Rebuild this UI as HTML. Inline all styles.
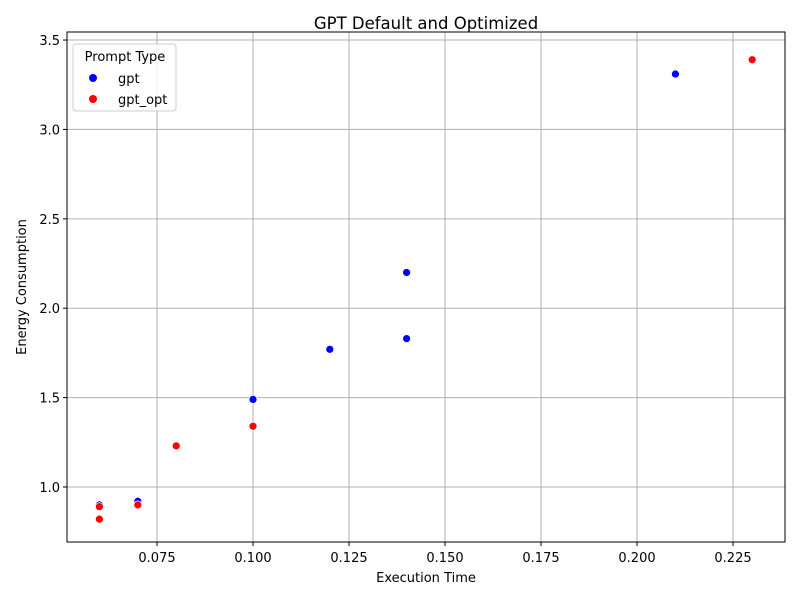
<!DOCTYPE html>
<html><head><meta charset="utf-8"><style>
body{margin:0;background:#fff;font-family:"Liberation Sans","DejaVu Sans",sans-serif;}
svg text{font-family:"DejaVu Sans","Liberation Sans",sans-serif;}
</style></head><body>
<svg id="chart" width="800" height="600" xmlns="http://www.w3.org/2000/svg">
<rect width="800" height="600" fill="#fff"/>
<g id="grid"></g>
<g id="pts"></g>
<rect x="67" y="32" width="718" height="510" fill="none" stroke="#000" stroke-width="1"/>
<g id="ticks"></g>
<text x="426" y="29" font-size="16.5" text-anchor="middle">GPT Default and Optimized</text>
<text x="426" y="582" font-size="13" text-anchor="middle">Execution Time</text>
<text transform="translate(26,287) rotate(-90)" font-size="13" text-anchor="middle">Energy Consumption</text>
<g>
<rect x="73" y="44" width="103" height="67" rx="3" fill="#fff" fill-opacity="0.8" stroke="#ccc"/>
<text x="125" y="61" font-size="13" text-anchor="middle">Prompt Type</text>
<g><circle cx="93" cy="78" r="4" fill="#0000ff"/><text x="118" y="83" font-size="13">gpt</text></g>
<g><circle cx="93" cy="99" r="4" fill="#ff0000"/><text x="118" y="104" font-size="13">gpt_opt</text></g>
</g>
</svg>
<script>
const gptX=[0.06,0.07,0.10,0.12,0.14,0.14,0.21];
const gptY=[0.90,0.92,1.49,1.77,2.20,1.83,3.31];
const optX=[0.06,0.06,0.07,0.08,0.10,0.23];
const optY=[0.89,0.82,0.90,1.23,1.34,3.39];
const xTicks=[0.075,0.100,0.125,0.150,0.175,0.200,0.225];
const xTickLabels=["0.075","0.100","0.125","0.150","0.175","0.200","0.225"];
const yTicks=[1.0,1.5,2.0,2.5,3.0,3.5];
const yTickLabels=["1.0","1.5","2.0","2.5","3.0","3.5"];
const L=67,R=785,T=32,B=542;
const xMin=0.05156,xMax=0.23854,yMin=0.6924,yMax=3.545;
function sx(v){return L+(v-xMin)/(xMax-xMin)*(R-L);}
function sy(v){return B-(v-yMin)/(yMax-yMin)*(B-T);}
const NS="http://www.w3.org/2000/svg";
const grid=document.getElementById('grid'),ticks=document.getElementById('ticks'),pts=document.getElementById('pts');
function mk(tag,attrs,parent){const e=document.createElementNS(NS,tag);for(const k in attrs)e.setAttribute(k,attrs[k]);parent.appendChild(e);return e;}
xTicks.forEach((t,i)=>{const x=sx(t);
 const g=mk('line',{x1:x,x2:x,y1:T,y2:B,stroke:'#b0b0b0','stroke-width':1},grid);
 
 
 const tk=mk('line',{x1:x,x2:x,y1:B,y2:B+4,stroke:'#000'},ticks);
 
 
 const tx=mk('text',{x:x,y:B+20,'font-size':13,'text-anchor':'middle'},ticks);tx.textContent=xTickLabels[i];
 
 
});
yTicks.forEach((t,i)=>{const y=sy(t);
 const g=mk('line',{x1:L,x2:R,y1:y,y2:y,stroke:'#b0b0b0','stroke-width':1},grid);
 
 
 const tk=mk('line',{x1:L-4,x2:L,y1:y,y2:y,stroke:'#000'},ticks);
 
 
 const tx=mk('text',{x:L-7,y:y+5,'font-size':13,'text-anchor':'end'},ticks);tx.textContent=yTickLabels[i];
 
 
});
gptX.forEach((v,i)=>{const c=mk('circle',{cx:sx(v),cy:sy(gptY[i]),r:4,fill:'#0000ff',stroke:'#fff','stroke-width':0.75},pts);
 
 });
optX.forEach((v,i)=>{const c=mk('circle',{cx:sx(v),cy:sy(optY[i]),r:4,fill:'#ff0000',stroke:'#fff','stroke-width':0.75},pts);
 
 });
</script>
</body></html>
